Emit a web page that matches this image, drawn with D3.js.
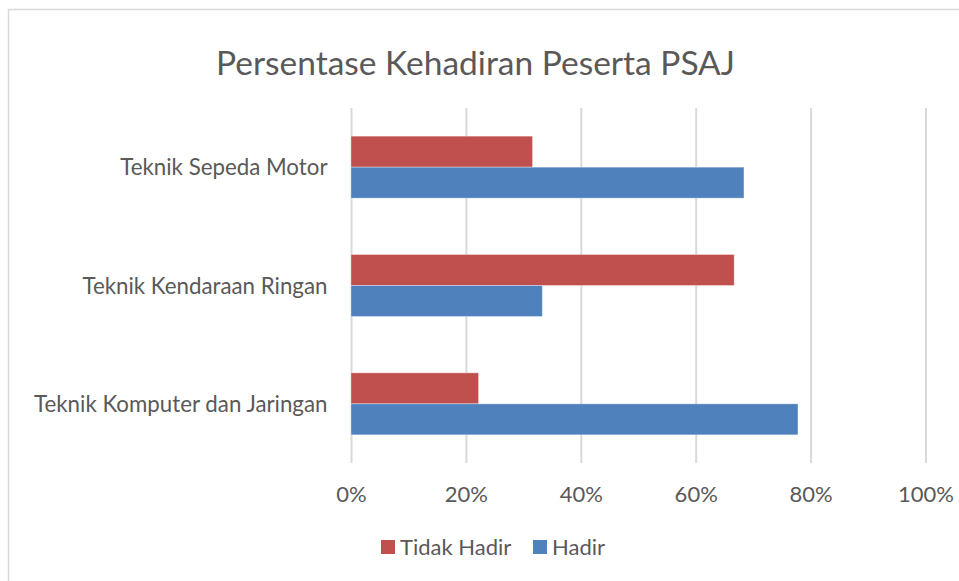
<!DOCTYPE html>
<html>
<head>
<meta charset="utf-8">
<script src="https://cdn.jsdelivr.net/npm/d3@7"></script>
<style>
  body { margin: 0; background: #fff; }
  text { font-family: Lato, "Open Sans", sans-serif; fill: #595959; }
</style>
</head>
<body>
<svg id="chart" width="959" height="581"></svg>
<script>
// categories top to bottom, as shown
const categories = ["Teknik Sepeda Motor", "Teknik Kendaraan Ringan", "Teknik Komputer dan Jaringan"];
const seriesNames = ["Tidak Hadir", "Hadir"];
const tidakHadir = [0.316, 0.667, 0.222];
const hadir = [0.684, 0.333, 0.778];
const tickValues = [0, 0.2, 0.4, 0.6, 0.8, 1];
const colors = ["#C0504D", "#4F81BD"];

let svg = d3.select("#chart");

let plot = {left: 351, right: 925.5, top: 108, bottom: 463};

// outer chart border
svg.append("rect")
    .attr("x", 8.5)
    .attr("y", 9.5)
    .attr("width", 1000)
    .attr("height", 1000)
    .attr("fill", "none")
    .attr("stroke", "#d9d9d9")
    .attr("stroke-width", 1.5);

svg.append("text")
    .attr("x", 475.5)
    .attr("y", 75)
    .attr("text-anchor", "middle")
    .style("font-size", "33.5px")
    .text("Persentase Kehadiran Peserta PSAJ");

let x = d3.scaleLinear()
    .domain([0, 1])
    .range([plot.left, plot.right]);

let y = d3.scaleBand()
    .domain(categories)
    .range([plot.top, plot.bottom])
    .paddingInner(0.476)
    .paddingOuter(0.238);

let ySub = d3.scaleBand()
    .domain(seriesNames)
    .range([0, y.bandwidth()]);

// gridlines + tick labels
let xAxis = svg.append("g")
    .attr("transform", `translate(0,${plot.bottom})`)
    .call(d3.axisBottom(x)
        .tickValues(tickValues)
        .tickSize(-(plot.bottom - plot.top))
        .tickFormat(d3.format(".0%")));

xAxis.select(".domain").remove();
xAxis.selectAll(".tick line")
    .attr("stroke", "#d9d9d9")
    .attr("stroke-width", 2);
xAxis.selectAll(".tick text")
    .attr("y", 39)
    .attr("dy", 0)
    .attr("fill", "#595959")
    .style("font-size", "22px")
    .style("font-family", "Lato, sans-serif");

// category labels
svg.append("g")
    .selectAll("text")
    .data(categories)
    .join("text")
    .attr("x", 327.5)
    .attr("y", d => y(d) + y.bandwidth() / 2 + 8)
    .attr("text-anchor", "end")
    .style("font-size", "22.3px")
    .text(d => d);

const rows = categories.map((c, i) => ({
    category: c,
    values: [
        {series: seriesNames[0], value: tidakHadir[i]},
        {series: seriesNames[1], value: hadir[i]}
    ]
}));

svg.append("g")
    .selectAll("g")
    .data(rows)
    .join("g")
    .attr("transform", d => `translate(0,${y(d.category)})`)
    .selectAll("rect")
    .data(d => d.values)
    .join("rect")
    .attr("x", x(0))
    .attr("y", d => ySub(d.series))
    .attr("width", d => x(d.value) - x(0))
    .attr("height", ySub.bandwidth())
    .attr("fill", (d, i) => colors[i])
    .attr("stroke", "#fff")
    .attr("stroke-opacity", 0.35)
    .attr("stroke-width", 1);

// legend
let legend = svg.append("g");
let legendX = [381, 533];
seriesNames.forEach((s, i) => {
    legend.append("rect")
        .attr("x", legendX[i])
        .attr("y", 540)
        .attr("width", 14)
        .attr("height", 14)
        .attr("fill", colors[i]);
    legend.append("text")
        .attr("x", legendX[i] + 19)
        .attr("y", 555)
        .style("font-size", "22px")
        .text(s);
});
</script>
</body>
</html>
